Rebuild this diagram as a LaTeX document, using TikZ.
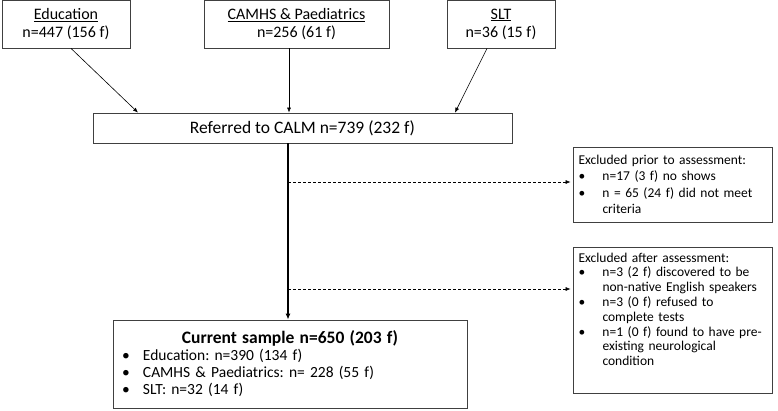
\documentclass[tikz,border=0pt]{standalone}
\usepackage{fontspec}
\setmainfont{Carlito}
\usetikzlibrary{arrows.meta}
\newcommand{\bitem}[2]{\hspace*{#1}\makebox[#2][l]{\textbullet}}
\frenchspacing
\begin{document}
\begin{tikzpicture}[x=1pt,y=-1pt,
  box/.style={draw=black!75, line width=0.8pt, inner sep=0pt, align=center},
  arr/.style={-{Latex[length=5pt,width=4pt]}, line width=0.6pt},
  darr/.style={arr, densely dashed, line width=0.6pt},
  topfont/.style={font=\fontsize{16}{18}\selectfont},
]
\useasboundingbox (0,0) rectangle (778,410);
\fill[white] (0,0) rectangle (778,410);

\node[box, topfont, minimum width=128pt, minimum height=48pt] (edu) at (66,24) {\underline{Education}\\n=447 (156 f)};
\node[box, topfont, minimum width=185pt, minimum height=48pt] (cam) at (296.5,24) {\underline{CAMHS \& Paediatrics}\\n=256 (61 f)};
\node[box, topfont, minimum width=108pt, minimum height=48pt] (slt) at (501,24) {\underline{SLT}\\n=36 (15 f)};

\node[box, font=\fontsize{17.5}{20}\selectfont, minimum width=419pt, minimum height=30pt] (ref) at (302.5,128) {Referred to CALM n=739 (232 f)};

\node[box, minimum width=354pt, minimum height=88pt, text width=340pt, align=left, font=\fontsize{15.5}{17}\selectfont] (smp) at (290,364) {%
\makebox[340pt][c]{\fontsize{17.5}{18}\selectfont\bfseries Current sample n=650 (203 f)}\\
\bitem{2pt}{21pt}Education: n=390 (134 f)\\
\bitem{2pt}{21pt}CAMHS \& Paediatrics: n= 228 (55 f)\\
\bitem{2pt}{21pt}SLT: n=32 (14 f)};

\node[box, font=\fontsize{13.5}{16.5}\selectfont, minimum width=199pt, minimum height=75pt, text width=196pt, align=left] (ex1) at (672.5,184.5) {%
\hspace*{4pt}Excluded prior to assessment:\\
\bitem{4pt}{24pt}n=17 (3 f) no shows\\
\bitem{4pt}{24pt}n = 65 (24 f) did not meet\\
\hspace*{28pt}criteria};

\node[box, font=\fontsize{13.5}{14.8}\selectfont, minimum width=199pt, minimum height=146pt, text width=196pt, text height=10pt, text depth=126pt, align=left] (ex2) at (672.5,320) {%
\hspace*{4pt}Excluded after assessment:\\
\bitem{4pt}{24pt}n=3 (2 f) discovered to be\\
\hspace*{28pt}non-native English speakers\\
\bitem{4pt}{24pt}n=3 (0 f) refused to\\
\hspace*{28pt}complete tests\\
\bitem{4pt}{24pt}\mbox{n=1 (0 f) found to have pre-}\\
\hspace*{28pt}existing neurological\\
\hspace*{28pt}condition};

\draw[arr] ([xshift=5pt]edu.south) -- ([xshift=-164.5pt]ref.north);
\draw[arr] ([xshift=-7.5pt]cam.south) -- ([xshift=-13.5pt]ref.north);
\draw[arr] ([xshift=-14pt]slt.south) -- ([xshift=152.5pt]ref.north);

\draw[-{Latex[length=6pt,width=5pt]}, line width=1.6pt] ([xshift=-14.5pt]ref.south) -- ([xshift=-2pt]smp.north);
\coordinate (m1) at (288,182);
\coordinate (m2) at (288,289);
\draw[darr] (m1) -- ([xshift=-2pt]ex1.west |- m1);
\draw[darr] (m2) -- ([xshift=-2pt]ex2.west |- m2);
\end{tikzpicture}
\end{document}
